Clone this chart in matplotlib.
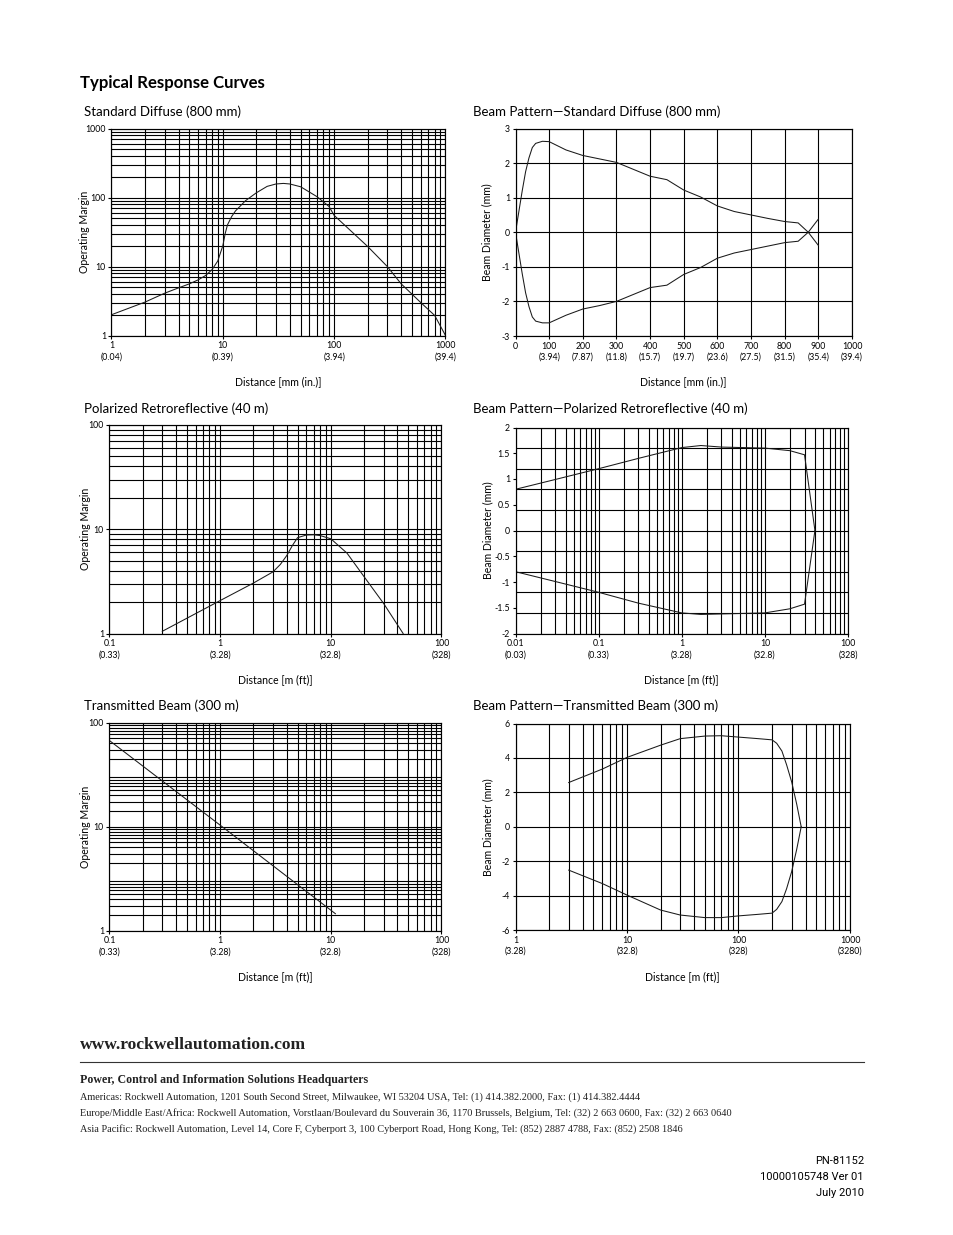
import matplotlib
matplotlib.use('Agg')
import matplotlib.pyplot as plt
from matplotlib.ticker import LogLocator, FixedLocator, MultipleLocator, NullFormatter

# Standard Diffuse (800 mm): distance [mm] vs operating margin
sd_x = [1, 2, 3, 4, 5, 6, 7, 8, 9, 10, 10.5, 11, 12, 13, 16, 20, 25, 30, 35, 40, 50, 70, 90, 100, 150, 200, 300, 400, 600, 800, 1000]
sd_y = [2.0, 3.05, 4.1, 4.9, 5.6, 6.4, 7.4, 9.0, 12, 20, 30, 40, 53, 64, 90, 117, 145, 157, 160, 157, 143, 103, 74, 55, 30, 19.5, 10, 5.6, 3.0, 1.95, 1.0]

# Beam pattern - standard diffuse: distance [mm] vs beam diameter [mm]
bsd_x = [0, 10, 20, 30, 40, 50, 60, 80, 100, 150, 200, 250, 300, 350, 400, 450, 500, 550, 600, 650, 700, 750, 800, 840, 870, 900]
bsd_up = [0, 0.6, 1.2, 1.75, 2.15, 2.45, 2.57, 2.63, 2.62, 2.38, 2.22, 2.12, 2.02, 1.82, 1.62, 1.52, 1.22, 1.02, 0.76, 0.6, 0.5, 0.4, 0.31, 0.27, 0.0, -0.38]
bsd_lo = [0, -0.6, -1.2, -1.75, -2.15, -2.45, -2.57, -2.62, -2.62, -2.4, -2.22, -2.12, -2.0, -1.8, -1.6, -1.53, -1.22, -1.02, -0.75, -0.6, -0.5, -0.4, -0.3, -0.26, 0.0, 0.38]

# Polarized Retroreflective (40 m): distance [m] vs operating margin
pm_x = [0.3, 1, 2, 3, 3.5, 4, 4.5, 5, 6, 7, 8, 10, 14, 20, 30, 45]
pm_y = [1.05, 2.07, 3.05, 3.9, 4.6, 5.6, 7.0, 8.3, 8.8, 8.85, 8.7, 8.1, 5.9, 3.5, 1.94, 1.0]

# Beam pattern - polarized retroreflective
pr_x = [0.01, 0.03, 0.1, 0.3, 1, 1.7, 3, 10, 20, 30, 40]
pr_up = [0.8, 0.99, 1.2, 1.4, 1.61, 1.65, 1.62, 1.6, 1.55, 1.47, 0.0]
pr_lo = [-0.8, -0.99, -1.2, -1.41, -1.6, -1.63, -1.62, -1.6, -1.52, -1.43, 0.0]

# Transmitted Beam (300 m)
tm_x = [0.1, 1, 11]
tm_y = [67, 10.3, 1.45]

# Beam pattern - transmitted beam
tb_x = [3, 6, 10, 20, 30, 50, 70, 100, 150, 200, 220, 245, 270, 300, 333, 365]
tb_up = [2.57, 3.35, 4.03, 4.74, 5.12, 5.27, 5.29, 5.21, 5.12, 5.05, 4.85, 4.4, 3.6, 2.6, 1.3, 0.0]
tb_lo = [-2.52, -3.3, -3.97, -4.84, -5.13, -5.28, -5.28, -5.18, -5.09, -5.02, -4.8, -4.35, -3.6, -2.6, -1.3, 0.0]

# tick labels
sd_xt = [1, 10, 100, 1000]
sd_xtl = ['1\n(0.04)', '10\n(0.39)', '100\n(3.94)', '1000\n(39.4)']
bsd_xt = [0, 100, 200, 300, 400, 500, 600, 700, 800, 900, 1000]
bsd_xtl = ['0', '100\n(3.94)', '200\n(7.87)', '300\n(11.8)', '400\n(15.7)', '500\n(19.7)',
           '600\n(23.6)', '700\n(27.5)', '800\n(31.5)', '900\n(35.4)', '1000\n(39.4)']
m_xt = [0.1, 1, 10, 100]
m_xtl = ['0.1\n(0.33)', '1\n(3.28)', '10\n(32.8)', '100\n(328)']
pr_xt = [0.01, 0.1, 1, 10, 100]
pr_xtl = ['0.01\n(0.03)', '0.1\n(0.33)', '1\n(3.28)', '10\n(32.8)', '100\n(328)']
tb_xt = [1, 10, 100, 1000]
tb_xtl = ['1\n(3.28)', '10\n(32.8)', '100\n(328)', '1000\n(3280)']

plt.rcParams['font.family'] = ['Lato', 'DejaVu Sans']

W, H = 954, 1235
fig = plt.figure(figsize=(W / 100, H / 100), dpi=100)
fig.patch.set_facecolor('white')


def px_axes(l, t, r, b):
    return fig.add_axes([l / W, 1 - b / H, (r - l) / W, (b - t) / H])


def setup(ax, box, xlabel, ylabel, ylab_x, xlab_y):
    l, t, r, b = box
    ax.grid(True, which='both', color='black', lw=0.8)
    ax.set_axisbelow(True)
    ax.xaxis.set_minor_formatter(NullFormatter())
    ax.yaxis.set_minor_formatter(NullFormatter())
    ax.tick_params(which='major', length=2.5, width=0.8, pad=1.5, labelsize=6.3, colors='black')
    ax.tick_params(which='minor', length=0)
    for lbl in ax.get_xticklabels():
        lbl.set_linespacing(1.35)
    for s in ax.spines.values():
        s.set_linewidth(0.85)
    ax.set_xlabel(xlabel, fontsize=7.6)
    ax.set_ylabel(ylabel, fontsize=7.6)
    ax.xaxis.set_label_coords((l + r) / 2 / W, 1 - xlab_y / H, transform=fig.transFigure)
    ax.yaxis.set_label_coords(ylab_x / W, 1 - (t + b) / 2 / H, transform=fig.transFigure)
    ax.xaxis.label.set_va('center')
    ax.yaxis.label.set_va('center')


curve = dict(color='#1a1a1a', lw=0.75)
logminor = dict(base=10, subs=range(2, 10), numticks=30)
sub = dict(fontsize=9.5, va='center')

fig.text(80 / W, 1 - 83 / H, 'Typical Response Curves', fontsize=12.1, fontweight='bold', va='center')

# 1. Standard Diffuse
box = (111.5, 128.5, 445.5, 335.5)
ax = px_axes(*box)
ax.set_xscale('log')
ax.set_yscale('log')
ax.plot(sd_x, sd_y, **curve)
ax.set_xlim(1, 1000)
ax.set_ylim(1, 1000)
ax.set_xticks(sd_xt, sd_xtl)
ax.set_yticks([1, 10, 100, 1000], ['1', '10', '100', '1000'])
ax.xaxis.set_minor_locator(LogLocator(**logminor))
ax.yaxis.set_minor_locator(LogLocator(**logminor))
setup(ax, box, 'Distance [mm (in.)]', 'Operating Margin', 85, 382)
fig.text(84 / W, 1 - 112 / H, 'Standard Diffuse (800 mm)', **sub)

# 2. Beam pattern standard diffuse
box = (515.5, 128.5, 852, 336)
ax = px_axes(*box)
ax.plot(bsd_x, bsd_up, **curve)
ax.plot(bsd_x, bsd_lo, **curve)
ax.set_xlim(0, 1000)
ax.set_ylim(-3, 3)
ax.set_xticks(bsd_xt, bsd_xtl)
ax.set_yticks(range(-3, 4), [str(v) for v in range(-3, 4)])
setup(ax, box, 'Distance [mm (in.)]', 'Beam Diameter (mm)', 487, 382)
fig.text(473 / W, 1 - 112 / H, 'Beam Pattern\u2014Standard Diffuse (800 mm)', **sub)

# 3. Polarized retroreflective
box = (109.5, 425, 441.5, 633.5)
ax = px_axes(*box)
ax.set_xscale('log')
ax.set_yscale('log')
ax.plot(pm_x, pm_y, **curve)
ax.set_xlim(0.1, 100)
ax.set_ylim(1, 100)
ax.set_xticks(m_xt, m_xtl)
ax.set_yticks([1, 10, 100], ['1', '10', '100'])
ax.xaxis.set_minor_locator(LogLocator(**logminor))
ax.yaxis.set_minor_locator(LogLocator(**logminor))
setup(ax, box, 'Distance [m (ft)]', 'Operating Margin', 86, 680)
fig.text(84 / W, 1 - 409 / H, 'Polarized Retroreflective (40 m)', **sub)

# 4. Beam pattern polarized retroreflective
box = (515.5, 427.5, 848, 633.5)
ax = px_axes(*box)
ax.set_xscale('log')
ax.plot(pr_x, pr_up, **curve)
ax.plot(pr_x, pr_lo, **curve)
ax.set_xlim(0.01, 100)
ax.set_ylim(-2, 2)
ax.set_xticks(pr_xt, pr_xtl)
ax.set_yticks([-2, -1.5, -1, -0.5, 0, 0.5, 1, 1.5, 2],
              ['-2', '-1.5', '-1', '-0.5', '0', '0.5', '1', '1.5', '2'])
ax.xaxis.set_minor_locator(LogLocator(**logminor))
ax.yaxis.set_minor_locator(MultipleLocator(0.4))
ax.yaxis.remove_overlapping_locs = False
setup(ax, box, 'Distance [m (ft)]', 'Beam Diameter (mm)', 488, 680)
ax.yaxis.grid(False, which='major')
fig.text(473 / W, 1 - 409 / H, 'Beam Pattern\u2014Polarized Retroreflective (40 m)', **sub)

# 5. Transmitted beam (graph paper with two cycles per decade)
box = (109.5, 722.5, 441.5, 930.5)
ax = px_axes(*box)
ax.set_xscale('log')
ax.set_yscale('log')
ax.plot(tm_x, tm_y, **curve)
ax.set_xlim(0.1, 100)
ax.set_ylim(1, 100)
ax.set_xticks(m_xt, m_xtl)
ax.set_yticks([1, 10, 100], ['1', '10', '100'])
ax.xaxis.set_minor_locator(LogLocator(**logminor))
half_grid = [10 ** (k / 2) * m ** 0.5 for k in range(4) for m in range(2, 10)]
ax.yaxis.set_minor_locator(FixedLocator(half_grid))
setup(ax, box, 'Distance [m (ft)]', 'Operating Margin', 86, 977)
fig.text(84 / W, 1 - 706 / H, 'Transmitted Beam (300 m)', **sub)

# 6. Beam pattern transmitted beam
box = (515.5, 723.5, 850, 930)
ax = px_axes(*box)
ax.set_xscale('log')
ax.plot(tb_x, tb_up, **curve)
ax.plot(tb_x, tb_lo, **curve)
ax.set_xlim(1, 1000)
ax.set_ylim(-6, 6)
ax.set_xticks(tb_xt, tb_xtl)
ax.set_yticks(range(-6, 7, 2), [str(v) for v in range(-6, 7, 2)])
ax.xaxis.set_minor_locator(LogLocator(**logminor))
setup(ax, box, 'Distance [m (ft)]', 'Beam Diameter (mm)', 488, 977)
fig.text(473 / W, 1 - 706 / H, 'Beam Pattern\u2014Transmitted Beam (300 m)', **sub)

# footer
serif = ['Liberation Serif', 'DejaVu Serif']
fig.text(80 / W, 1 - 1045 / H, 'www.rockwellautomation.com', family=serif, fontsize=12.6,
         fontweight='bold', va='center', color='#222222')
fig.add_artist(plt.Line2D([80 / W, 864 / W], [1 - 1062 / H, 1 - 1062 / H], color='#333333', lw=0.8))
fig.text(80 / W, 1 - 1080 / H, 'Power, Control and Information Solutions Headquarters', family=serif,
         fontsize=8.6, fontweight='bold', va='center', color='#222222')
addr = [
    'Americas: Rockwell Automation, 1201 South Second Street, Milwaukee, WI 53204 USA, Tel: (1) 414.382.2000, Fax: (1) 414.382.4444',
    'Europe/Middle East/Africa: Rockwell Automation, Vorstlaan/Boulevard du Souverain 36, 1170 Brussels, Belgium, Tel: (32) 2 663 0600, Fax: (32) 2 663 0640',
    'Asia Pacific: Rockwell Automation, Level 14, Core F, Cyberport 3, 100 Cyberport Road, Hong Kong, Tel: (852) 2887 4788, Fax: (852) 2508 1846',
]
for i, line in enumerate(addr):
    fig.text(80 / W, 1 - (1097 + 16 * i) / H, line, family=serif, fontsize=7.38, va='center', color='#222222')
for i, line in enumerate(['PN-81152', '10000105748 Ver 01', 'July 2010']):
    fig.text(864 / W, 1 - (1161 + 16 * i) / H, line, family=['Roboto', 'DejaVu Sans'],
             fontsize=8.0, ha='right', va='center')

fig.savefig('out.png', dpi=100)
